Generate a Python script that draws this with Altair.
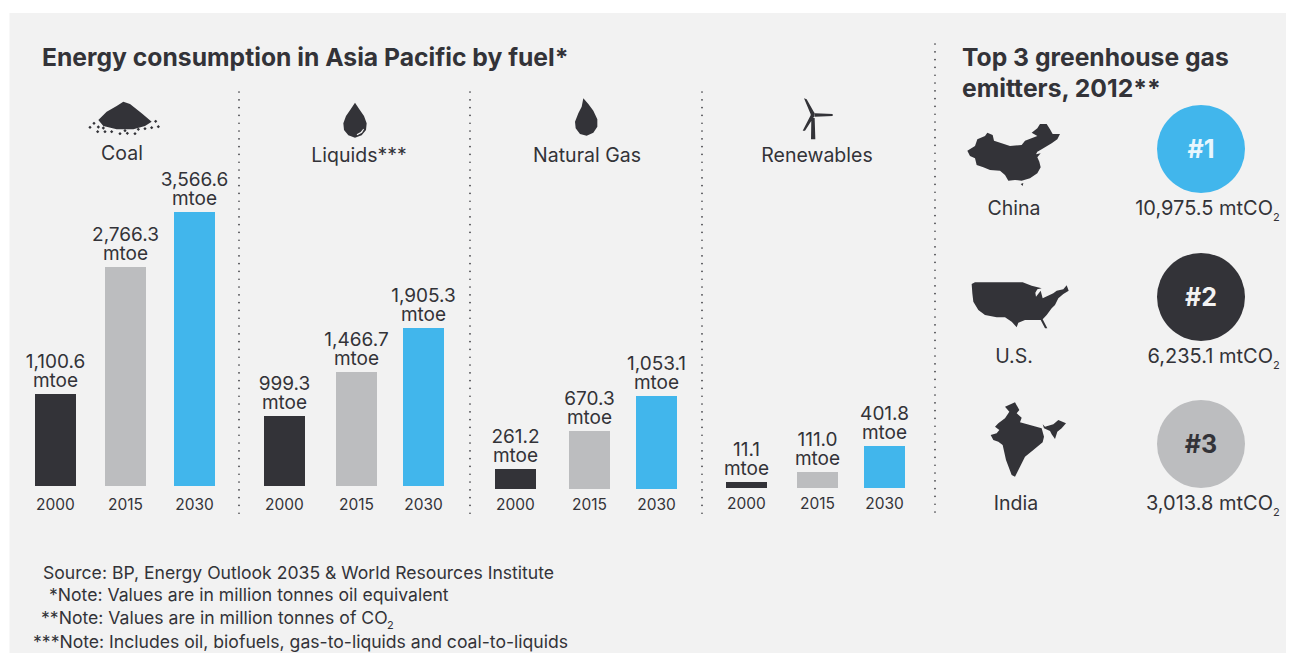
import altair as alt
import pandas as pd

# ---------- data ----------
FUELS = ["Coal", "Liquids***", "Natural Gas", "Renewables"]
YEARS = ["2000", "2015", "2030"]
COAL = [1100.6, 2766.3, 3566.6]
LIQUIDS = [999.3, 1466.7, 1905.3]
GAS = [261.2, 670.3, 1053.1]
RENEW = [11.1, 111.0, 401.8]
COUNTRIES = ["China", "U.S.", "India"]
RANKS = ["#1", "#2", "#3"]
EMISSIONS = ["10,975.5", "6,235.1", "3,013.8"]
NOTES = [
    "Source: BP, Energy Outlook 2035 & World Resources Institute",
    "*Note: Values are in million tonnes oil equivalent",
    "**Note: Values are in million tonnes of CO",
    "***Note: Includes oil, biofuels, gas-to-liquids and coal-to-liquids",
]

# ---------- style / layout ----------
DARK, GREY, BLUE = "#333338", "#bcbdbf", "#41b6ec"
BG = "#f2f2f2"
FONT = "Inter"
OX, OY = 8, 8
CENTRES = [15.5, 55.5, 125.5, 194.5, 284.5, 356.5, 423.5, 515.5, 589.5, 656.5, 746.5, 817.5, 884.5, 951.5]
BASES = [486, 486, 489, 488]
TOPS = [[394, 267, 212], [416, 372, 328], [469, 431, 396], [482, 472, 446]]
YEAR_Y = [510, 510, 510, 509]

x_scale = alt.Scale(domain=list(range(-1, 13)), range=[c - OX for c in CENTRES], nice=False, zero=False)


def panel(i, values):
    rows = pd.DataFrame({
        "slot": [i * 3 + k for k in range(3)],
        "value": values,
        "year": YEARS,
        "label": [f"{v:,.1f}" for v in values],
    })
    y_scale = alt.Scale(domain=[0] + values, range=[BASES[i] - OY] + [t - OY for t in TOPS[i]],
                        nice=False, zero=False)
    x = alt.X("slot:Q", scale=x_scale, axis=None)
    y = alt.Y("value:Q", scale=y_scale, axis=None)
    bars = alt.Chart(rows).mark_bar(size=41).encode(
        x=x, y=y, y2=alt.value(BASES[i] - OY),
        color=alt.Color("year:N", scale=alt.Scale(domain=YEARS, range=[DARK, GREY, BLUE]), legend=None),
    )
    txt = dict(font=FONT, fontSize=19, color=DARK, align="center", baseline="alphabetic")
    line1 = alt.Chart(rows).mark_text(dy=-26, **txt).encode(x=x, y=y, text="label:N")
    line2 = alt.Chart(rows).mark_text(dy=-7, **txt).encode(x=x, y=y, text=alt.value("mtoe"))
    yrs = alt.Chart(rows).mark_text(font=FONT, fontSize=15.5, color=DARK, align="center", baseline="alphabetic").encode(
        x=x, y=alt.value(YEAR_Y[i] - OY), text="year:N")
    return alt.layer(bars, line1, line2, yrs)


def label(t, x, y, size=18, weight="normal", align="left", color=DARK):
    return alt.Chart(pd.DataFrame({"t": [t]})).mark_text(
        font=FONT, fontSize=size, fontWeight=weight, align=align, baseline="alphabetic", color=color
    ).encode(x=alt.value(x - OX), y=alt.value(y - OY), text="t:N")


def rule(x, y0, y1):
    return alt.Chart(pd.DataFrame({"a": [0]})).mark_rule(
        color=DARK, strokeWidth=1.6, strokeDash=[0.1, 7.7], strokeCap="round"
    ).encode(x=alt.value(x - OX), y=alt.value(y0 - OY), y2=alt.value(y1 - OY))


def poly(pts):
    return "M" + "L".join(f"{a:.4f},{b:.4f}" for a, b in pts) + "Z"


def zoomed(polys, zx, zy, cx, cy, zoom=3.0):
    """polygons in zoomed-crop coordinates, into a symbol path around page point (cx, cy); 1 unit = 100px."""
    out = []
    for p in polys:
        out.append(poly([((zx + a / zoom - cx) / 100, (zy + b / zoom - cy) / 100) for a, b in p]))
    return "".join(out)


def icon(path, cx, cy, color=DARK):
    return alt.Chart(pd.DataFrame({"a": [0]})).mark_point(
        shape=path, size=40000, filled=True, fill=color, opacity=1, strokeWidth=0
    ).encode(x=alt.value(cx - OX), y=alt.value(cy - OY))


def dot(cx, cy, d, color):
    return alt.Chart(pd.DataFrame({"a": [0]})).mark_circle(size=d * d, color=color, opacity=1).encode(
        x=alt.value(cx - OX), y=alt.value(cy - OY))


CHINA = [[(52,122),(75,108),(82,88),(105,78),(112,68),(128,75),(132,92),(155,100),(180,108),(215,105),(225,92),(262,78),(245,68),(262,55),(270,42),(290,42),(300,58),(308,72),(330,72),(322,88),(305,100),(275,118),(262,125),(258,133),(272,130),(262,142),(268,155),(272,172),(262,190),(240,205),(215,212),(195,210),(175,212),(165,195),(150,182),(120,180),(100,172),(80,165),(75,145),(60,138)],
         [(212,222),(220,219),(218,228)]]
USA = [[(65,42),(75,37),(218,37),(245,47),(275,55),(262,58),(256,68),(258,80),(272,62),(278,85),(310,70),(320,62),(340,58),(350,46),(356,62),(340,72),(325,85),(315,105),(305,115),(290,135),(278,148),(292,175),(285,175),(272,150),(245,150),(225,150),(205,158),(200,172),(185,155),(165,142),(140,142),(105,135),(85,120),(70,95),(67,70)]]
INDIA = [[(105,35),(135,22),(148,45),(140,55),(155,68),(150,82),(215,100),(222,125),(218,142),(190,165),(165,185),(150,215),(135,245),(125,240),(108,195),(98,150),(85,140),(70,135),(62,120),(80,115),(88,105),(75,95),(85,85),(105,70),(118,50)],
         [(218,88),(225,95),(250,88),(265,75),(288,85),(275,100),(262,110),(255,132),(245,118),(240,108),(222,100)]]
PILE = [(85,90),(110,65),(140,48),(160,35),(180,42),(215,70),(245,95),(225,108),(190,118),(140,118),(100,108)]
COAL_DOTS = [(72,100),(60,112),(85,111),(83,125),(105,125),(125,125),(150,131),(172,130),(195,131),(205,118),(225,116),(245,113),(265,110),(257,94),(100,114),(165,122)]
DROP = [(855,38),(868,58),(882,78),(890,100),(888,120),(875,136),(855,143),(835,136),(822,120),(820,100),(828,78),(842,58)]
FLAME = [(130,25),(145,42),(160,62),(172,88),(172,110),(160,128),(140,137),(120,132),(107,115),(105,95),(115,70),(125,50)]
BLADES = [[(792,25),(800,28),(825,72),(813,75)],
          [(825,70),(878,72),(878,78),(825,80)],
          [(812,76),(822,80),(795,122),(788,122)],
          [(814,84),(824,84),(826,148),(813,148)],
          [(812,68),(824,68),(824,80),(812,80)]]

layers = [
    alt.Chart(pd.DataFrame({"a": [0]})).mark_rect(color=BG).encode(
        x=alt.value(1.5), x2=alt.value(1278), y=alt.value(5), y2=alt.value(645)),
]

fuel_rows = [COAL, LIQUIDS, GAS, RENEW]
for i, vals in enumerate(fuel_rows):
    layers.append(panel(i, vals))

layers += [
    label("Energy consumption in Asia Pacific by fuel*", 42, 66, 24.7, "bold"),
    label("Top 3 greenhouse gas", 962, 66, 24.7, "bold"),
    label("emitters, 2012**", 962, 97, 24.7, "bold"),
    rule(239, 92, 518), rule(470, 92, 518), rule(702, 92, 518), rule(935, 44, 514),
]

for name, x, y in zip(FUELS, [122, 359, 587, 817], [160, 162, 162, 162]):
    layers.append(label(name, x, y, 19.5, align="center"))

coal_path = zoomed([PILE] + [[(a-5,b),(a,b-5),(a+5,b),(a,b+5)] for a, b in COAL_DOTS], 70, 90, 122, 122)
drop_path = zoomed([DROP], 70, 90, 355, 122)
flame_path = zoomed([FLAME], 540, 90, 586, 117)
turbine_path = zoomed(BLADES, 540, 90, 817, 117)
highlight = zoomed([[(882,118),(876,128),(862,136),(860,133),(872,126),(880,116)]], 70, 90, 355, 122)

layers += [
    icon(coal_path, 122, 122), icon(drop_path, 355, 122), icon(highlight, 355, 122, BG),
    icon(flame_path, 586, 117), icon(turbine_path, 817, 117),
    icon(zoomed(CHINA, 950, 110, 1014, 150), 1014, 150),
    icon(zoomed(USA, 950, 270, 1014, 305), 1014, 305),
    icon(zoomed(INDIA, 970, 395, 1015, 440), 1015, 440),
]

CIRCLE_Y = [149, 297, 444]
NAME_Y = [215, 363, 510]
NAME_X = [1014, 1014, 1016]
CIRCLE_COL = [BLUE, DARK, GREY]
RANK_COL = ["#e8f6fd", "#f2f2f2", DARK]
for k in range(3):
    layers += [
        dot(1201, CIRCLE_Y[k], 88, CIRCLE_COL[k]),
        label(RANKS[k], 1201, CIRCLE_Y[k] + 9, 25, "bold", "center", RANK_COL[k]),
        label(COUNTRIES[k], NAME_X[k], NAME_Y[k], 19.5, align="center"),
        label(f"{EMISSIONS[k]} mtCO", 1273, NAME_Y[k], 20, align="right"),
        label("2", 1273, NAME_Y[k] + 6, 11),
    ]

for t, x, y in zip(NOTES, [43, 49, 41, 33], [579, 601, 624, 648]):
    layers.append(label(t, x, y, 17.6))
layers.append(label("2", 387, 629, 11))

chart = alt.layer(*layers).resolve_scale(y="independent", color="independent").properties(
    width=1278, height=645, autosize=alt.AutoSizeParams(type="none"), padding=0,
).configure_view(stroke=None)

chart.save("out.html", embed_options={"renderer": "svg", "actions": False})
